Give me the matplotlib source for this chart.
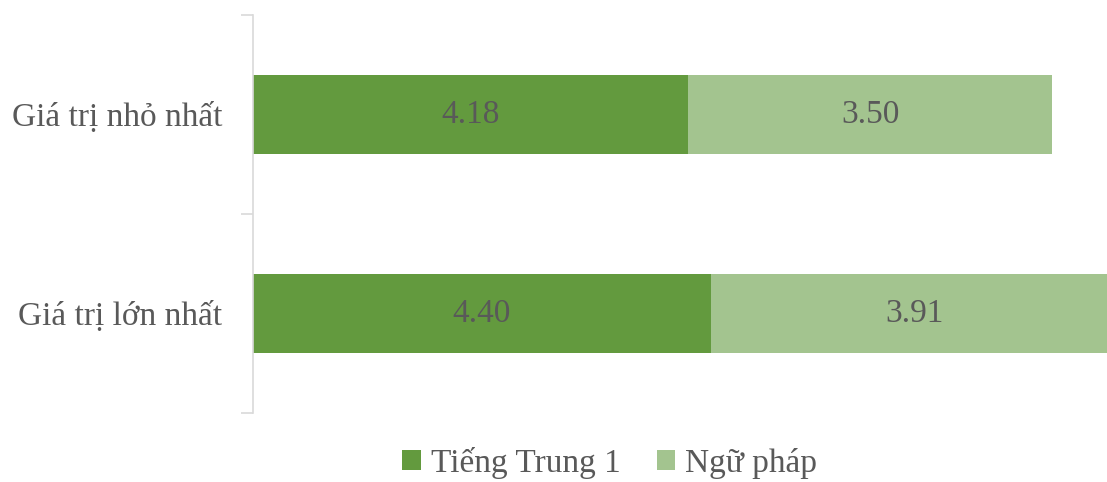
import numpy as np
import matplotlib.pyplot as plt
from matplotlib.ticker import FixedLocator

plt.rcParams['font.family'] = ['Liberation Serif', 'DejaVu Serif']

categories = ["Giá trị lớn nhất", "Giá trị nhỏ nhất"]
series_names = ["Tiếng Trung 1", "Ngữ pháp"]
tieng_trung = [4.40, 4.18]
ngu_phap = [3.91, 3.50]
colors = ["#639A3E", "#A3C48F"]
text_color = "#595959"

fig = plt.figure(figsize=(11.07, 4.82), dpi=100)
ax = fig.add_axes([0.2285, 0.1432, 0.7715, 0.8257])

y = np.arange(len(categories))
h = 0.40
b1 = ax.barh(y, tieng_trung, h, color=colors[0], label=series_names[0])
b2 = ax.barh(y, ngu_phap, h, left=tieng_trung, color=colors[1], label=series_names[1])

for bars, vals, lefts in [(b1, tieng_trung, [0, 0]), (b2, ngu_phap, tieng_trung)]:
    for yi, v, l in zip(y, vals, lefts):
        ax.text(l + v / 2, yi, f"{v:.2f}", ha="center", va="center",
                fontsize=24, color=text_color)

ax.set_xlim(0, 8.206)
ax.set_ylim(-0.5, 1.5)
ax.set_yticks(y)
ax.set_yticklabels(categories, fontsize=24, color=text_color)
ax.tick_params(axis="y", which="major", length=0, pad=22)
ax.yaxis.set_minor_locator(FixedLocator([-0.5, 0.5, 1.5]))
ax.tick_params(axis="y", which="minor", length=9, color="#D9D9D9", width=1.2)
ax.set_xticks([])
for s in ["top", "right", "bottom"]:
    ax.spines[s].set_visible(False)
ax.spines["left"].set_color("#D9D9D9")
ax.spines["left"].set_linewidth(1.2)

fig.legend(handles=[b1, b2], labels=series_names, loc="center",
           bbox_to_anchor=(0.551, 0.04), ncol=2, frameon=False,
           fontsize=24, labelcolor=text_color, handlelength=0.55,
           handleheight=0.55, handletextpad=0.3, columnspacing=1.1)

fig.savefig("out.png", dpi=100)
